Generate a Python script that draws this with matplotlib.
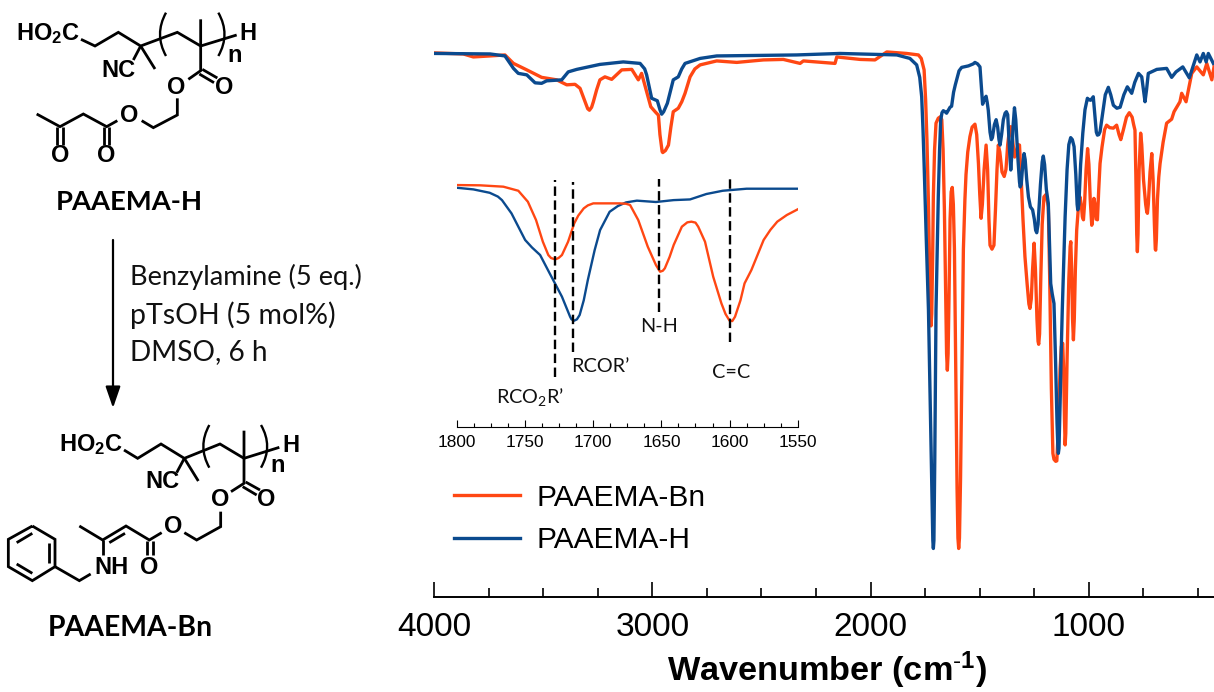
import matplotlib
matplotlib.use("Agg")
import matplotlib.pyplot as plt
from matplotlib.path import Path
from matplotlib.patches import PathPatch

plt.rcParams['font.family'] = ['Liberation Sans', 'DejaVu Sans']
plt.rcParams['mathtext.fontset'] = 'custom'
plt.rcParams['mathtext.rm'] = 'Liberation Sans'
plt.rcParams['mathtext.bf'] = 'Liberation Sans:bold'
plt.rcParams['mathtext.default'] = 'regular'

ORANGE = '#FF4713'
BLUE = '#0B4A8E'

# main spectrum, (wavenumber, transmittance %)
bn_main = [(3995, 99.4), (3866, 99.2), (3820, 98.6), (3743, 98.8), (3675, 99.0), (3636, 97.3), (3575, 96.0),
           (3507, 94.5), (3438, 94.0), (3392, 93.0), (3354, 93.1), (3331, 92.3), (3320, 91), (3308, 89.6),
           (3296, 88.2), (3288, 87.9), (3278, 88.5), (3270, 89.6), (3255, 92), (3240, 94.0), (3217, 94.6),
           (3186, 94.1), (3140, 96.0), (3094, 96.1), (3064, 94.0), (3049, 95.3), (3026, 91.6), (3007, 88.6),
           (2985, 87.5), (2972, 86.9), (2965, 83), (2955, 79.6), (2952, 79.4), (2940, 79.8), (2926, 80.9),
           (2915, 84.5), (2904, 87.6), (2881, 88.3), (2865, 89.6), (2850, 91.3), (2827, 94.6), (2805, 96.2),
           (2781, 97.0), (2705, 97.8), (2613, 97.5), (2491, 98.0), (2400, 98.1), (2323, 97.3), (2308, 97.8),
           (2163, 97.3), (2155, 98.6), (2048, 98.1), (1980, 98.0), (1926, 99.6), (1835, 99.3), (1781, 99.0)]
bn_carbonyl = [(1768, 98.3), (1755, 96.0), (1748, 90), (1742, 82), (1735.5, 70), (1730, 56), (1726, 47),
               (1723.3, 44.6), (1720, 47), (1716, 58), (1712.6, 70.5), (1707, 80), (1700.4, 85.3), (1690, 86.3),
               (1680, 86.6), (1674, 86.0), (1668, 80), (1662, 68), (1656, 50), (1652, 39), (1648.5, 35.7),
               (1645, 39), (1641, 50), (1636, 66), (1631, 71.5), (1626, 72.4), (1621, 69), (1616, 60), (1610, 35),
               (1604, 12), (1600, 2), (1596.5, -0.1), (1593, 2), (1588, 14), (1582, 36), (1575, 60), (1568, 70),
               (1563, 75), (1555, 79.5), (1545, 82.6), (1535, 84.5), (1522, 85.1)]
bn_finger = [(1514, 83), (1506, 77.2), (1500, 71), (1494, 66.2), (1488, 69), (1480, 76), (1471, 80.9), (1464, 76),
             (1458, 66), (1453, 60.8), (1444, 60), (1435, 60.8), (1428, 68), (1421, 76), (1415, 80.9), (1408, 79.5),
             (1398, 75.5), (1388, 74.6), (1380, 76), (1372, 81), (1364, 84), (1358, 84.6), (1350, 82), (1340, 78.5),
             (1334, 79), (1325, 81), (1318, 80.9), (1310, 74), (1302, 66), (1293, 58.5), (1283, 53), (1275, 49),
             (1270, 48.1), (1264, 50), (1258, 56), (1251, 61.2), (1245, 56), (1238, 46), (1233, 41.5), (1230, 40.9),
             (1226, 43), (1220, 55), (1214, 65), (1206, 70.5), (1196, 71), (1186, 68.5), (1180, 55), (1172, 32),
             (1165, 19), (1160, 17.8), (1152, 17.4), (1147, 17.5), (1140, 24), (1132, 36), (1126, 40.5), (1120, 41.1),
             (1116, 36), (1112, 26), (1109, 20.7), (1106, 23), (1100, 38), (1092, 54), (1086, 60.5), (1083, 61.5),
             (1079, 56), (1075, 46), (1071, 41.8), (1067, 46), (1062, 56), (1056, 63.8), (1048, 68.5), (1041, 70.5),
             (1035, 69), (1030, 66.5), (1025, 65.9), (1020, 69), (1013, 76), (1006, 80.2), (1000, 77), (994, 70),
             (987, 64.8), (983, 66), (977, 70.2), (972, 69), (966, 66), (961, 65.9), (955, 72), (949, 77.2),
             (940, 80.5), (928, 84), (919, 84.9), (905, 84.4), (888, 84.3), (873, 84.9), (862, 83), (854, 82),
             (842, 84), (828, 86.5), (815, 87.4), (802, 86.5), (795, 85), (789, 83.9), (785, 75), (781, 63),
             (778, 59.5), (775, 63), (770, 76), (763, 83.3), (758, 81), (750, 74), (740, 69), (735, 67.5), (732, 67.2),
             (728, 69), (720, 75.5), (712, 79.2), (706, 74), (700, 65), (696, 60), (694, 59.8), (691, 62), (686, 70),
             (680, 74.5), (674, 77.2), (660, 81.5), (644, 85.3), (621, 86.1), (610, 87.6), (583, 89.6), (575, 91.3),
             (555, 89.6), (529, 95.3), (506, 96.6), (476, 95.0), (460, 97.3), (437, 94.0), (427, 96.6)]
h_main = [(3995, 99.3), (3743, 99.2), (3675, 98.8), (3636, 96.3), (3614, 95.3), (3575, 95.0), (3537, 93.4),
          (3507, 93.3), (3484, 93.8), (3415, 94.0), (3385, 95.6), (3346, 96.1), (3240, 97.1), (3133, 97.6),
          (3056, 97.3), (3035, 96.2), (3026, 95.0), (3003, 90.3), (2977, 89.8), (2965, 88), (2957, 87.1), (2948, 87.6),
          (2931, 89.3), (2904, 94.0), (2881, 94.6), (2865, 96.2), (2850, 97.3), (2781, 98.3), (2705, 98.8),
          (2339, 99.0), (2140, 99.3), (1880, 99.0), (1820, 98.3), (1789, 97.0), (1775, 94.5)]
h_carbonyl = [(1766, 90.6), (1760, 84), (1755, 77.2), (1745, 62), (1735, 47.8), (1726, 27), (1719, 10), (1715, 1.5),
              (1712.6, -0.1), (1710, 1.5), (1706, 18), (1700.4, 47.8), (1695, 60), (1690, 70.5), (1684, 80),
              (1679, 85.9), (1673, 87.4), (1667, 87.8), (1659, 87.6), (1652, 87.3), (1636, 88.5), (1629, 88.7),
              (1620, 91.5), (1612, 93), (1606, 94), (1595, 95.8), (1583, 96.5), (1552, 96.8), (1530, 97.2), (1522, 97.5)]
h_finger = [(1510, 97.2), (1499, 96.6), (1493, 93), (1487, 89.1), (1478, 90.2), (1471, 90.7), (1466, 89.5), (1461, 87.9),
            (1453, 83.5), (1447, 82), (1442, 82.4), (1433, 85), (1425, 86), (1418, 84.5), (1412, 82), (1407, 80.9),
            (1400, 83), (1392, 86), (1384, 87.3), (1378, 87.6), (1372, 87), (1365, 81), (1358, 75.9), (1353, 79),
            (1347, 85), (1341, 88.4), (1335, 86), (1325, 78), (1318, 73.5), (1315, 72.5), (1310, 73), (1303, 77),
            (1297, 79.2), (1292, 78), (1285, 74), (1277, 70.5), (1268, 68.5), (1258, 67.9), (1250, 66), (1244, 63.8),
            (1239, 63.3), (1233, 65), (1222, 73), (1214, 77.5), (1209, 78.7), (1203, 77), (1195, 72), (1186, 69.2),
            (1180, 60), (1175, 53.1), (1168, 51), (1160, 49.1), (1153, 38), (1146, 25), (1142, 20), (1140, 19),
            (1137, 20), (1132, 29), (1126, 41), (1122, 47.8), (1115, 58), (1109, 66.5), (1100, 76), (1092, 81),
            (1083.5, 82.4), (1076, 82), (1068, 80.6), (1060, 75), (1054, 69), (1051, 67.9), (1046, 69), (1038, 77),
            (1028, 83.3), (1018, 88), (1007, 90.3), (999, 90), (992, 89.9), (985, 90.3), (980, 90.6), (973, 87),
            (966, 83.5), (961, 82.9), (955, 83), (949, 83.6), (938, 87), (925, 91), (911, 92.5), (900, 91), (888, 88.9),
            (872, 88.3), (857, 88.5), (840, 91), (824, 92.6), (804, 91.3), (790, 93.5), (773, 95.3), (758, 94.6),
            (750, 92), (743, 89.6), (736, 92), (728, 95.3), (689, 96.1), (644, 96.3), (621, 94.5), (601, 95.6),
            (570, 96.6), (540, 94.4), (506, 99.0), (491, 97.6), (476, 99.3), (463, 97.6), (453, 99.3), (430, 97.3)]

# inset, 1800-1550 cm-1
bn_inset = [(1800, 100), (1783, 99.8), (1766, 98.8), (1755, 95.8), (1748, 87.7), (1742, 74.2), (1737, 58.2), (1733, 48.4),
            (1731, 46.2), (1728, 45.2), (1725.5, 46.2), (1723, 48.4), (1718.5, 58.2), (1714, 71.7), (1711, 77.5), (1707, 82.8),
            (1704, 85), (1700, 86.5), (1680.5, 86.5), (1676, 86.2), (1673, 85.3), (1667, 74.2), (1660, 54.5), (1654, 41.0),
            (1651, 36.1), (1649, 36.8), (1647.5, 38.6), (1644, 47), (1641, 55.8), (1635, 69.3), (1631, 72.5), (1628, 73.0),
            (1625, 72.3), (1623, 69.3), (1618, 58.2), (1612, 32.4), (1606, 12.8), (1603, 5), (1600, 0), (1598, -0.3),
            (1596, 2.9), (1592, 15), (1589, 27.5), (1584, 37.3), (1575, 59.5), (1570, 67), (1565, 73.0), (1558, 77.9), (1550, 82.1)]
h_inset = [(1800, 98.0), (1788, 96.8), (1776, 94.3), (1770, 91.5), (1767, 88.9), (1760, 79.1), (1750, 59.5), (1745, 54),
           (1739, 48.4), (1732, 34.9), (1723, 17.7), (1717, 2.9), (1716, 1), (1714, 0), (1712, 1), (1710, 4.2), (1707, 15),
           (1704, 30.0), (1699, 52), (1695, 66.8), (1688, 80.3), (1682, 84.5), (1676, 87.2), (1668, 88.5), (1654, 87.5),
           (1641, 88.9), (1629, 89.4), (1617, 93.4), (1605, 95.8), (1587.5, 97.3), (1550, 97.3)]

band_wn = [1728, 1715, 1652, 1600]
band_top = [103.7, 102.5, 104.2, 106.1]
band_bottom = [-41.3, -22.9, 6.6, -15.5]

main_ticks = [4000, 3000, 2000, 1000]
inset_ticks = [1800, 1750, 1700, 1650, 1600, 1550]

W, H = 1214, 692
fig = plt.figure(figsize=(W / 100, H / 100), dpi=100)


def axes_px(x0, y0, x1, y1, **kw):
    # y0 = top, y1 = bottom, in picture pixels
    return fig.add_axes([x0 / W, 1 - y1 / H, (x1 - x0) / W, (y1 - y0) / H], **kw)


def draw(axis, pairs, **kw):
    wn, t = zip(*pairs)
    return axis.plot(wn, t, solid_joinstyle='round', **kw)


# main spectrum
ax = axes_px(434, 40, 1214, 597)
ax.patch.set_visible(False)
draw(ax, bn_main + bn_carbonyl + bn_finger, color=ORANGE, lw=2.4, label='PAAEMA-Bn')
draw(ax, h_main + h_carbonyl + h_finger, color=BLUE, lw=2.4, label='PAAEMA-H')
ax.set_xlim(4000, 427)
ax.set_ylim(-9.84, 102)
ax.set_yticks([])
ax.set_xticks(main_ticks)
ax.set_xticks(range(3750, 400, -250), minor=True)
for s in ['left', 'right', 'top']:
    ax.spines[s].set_visible(False)
ax.spines['bottom'].set_linewidth(1.4)
ax.tick_params(axis='x', which='major', direction='in', length=11, width=1.2, labelsize=24, pad=10.5)
ax.tick_params(axis='x', which='minor', direction='in', length=6.5, width=1.2)
ax.set_xlabel('Wavenumber (cm$^{\\text{-}\\mathbf{1}}$)', fontsize=24.7, fontweight='bold', labelpad=5)
ax.xaxis.label.set_x((827 - 434) / 780)
ax.legend(loc='center left', bbox_to_anchor=(0.0256, 0.14), frameon=False, fontsize=21.5,
          handlelength=2.2, handletextpad=0.57, labelspacing=0.5, borderpad=0, borderaxespad=0)

# inset
axi = axes_px(457, 170, 797.7, 427)
axi.patch.set_visible(False)
draw(axi, h_inset, color=BLUE, lw=1.7)
draw(axi, bn_inset, color=ORANGE, lw=1.7)
axi.vlines(band_wn, band_bottom, band_top, colors='black', linestyles=(0, (4, 1.9)), lw=1.7)
axi.set_xlim(1800, 1550)
axi.set_ylim(-78.4, 111.1)
axi.set_yticks([])
axi.set_xticks(inset_ticks)
axi.set_xticks([t - 12.5 * k for t in inset_ticks[:-1] for k in (1, 2, 3)], minor=True)
for s in ['left', 'right', 'top']:
    axi.spines[s].set_visible(False)
axi.spines['bottom'].set_linewidth(0.8)
axi.tick_params(axis='x', which='major', direction='in', length=4.8, width=0.8, labelsize=12.4, pad=6)
axi.tick_params(axis='x', which='minor', direction='in', length=2.9, width=0.8)

# overlay in picture pixels for the structures and notes
ov = fig.add_axes([0, 0, 1, 1], zorder=5)
ov.set_xlim(0, W)
ov.set_ylim(H, 0)
ov.axis('off')

LATO = ['Lato', 'DejaVu Sans']
for txt, x, y in [('RCO$_2$R’', 530, 397), ('RCOR’', 600, 367), ('N-H', 659.5, 326), ('C=C', 731, 372)]:
    ov.text(x, y, txt, family=LATO, fontsize=14.3, ha='center', va='center', color='#111111')
for txt, y, size in [('Benzylamine (5 eq.)', 277, 19.6), ('pTsOH (5 mol%)', 315, 20.5), ('DMSO, 6 h', 352, 20.2)]:
    ov.text(130, y, txt, family=LATO, fontsize=size, ha='left', va='center', color='#111111')
ov.text(129.5, 202, 'PAAEMA-H', family=LATO, fontsize=19.7, fontweight='bold', ha='center', va='center')
ov.text(130.5, 628, 'PAAEMA-Bn', family=LATO, fontsize=20.4, fontweight='bold', ha='center', va='center')

ov.annotate('', xy=(113, 408), xytext=(113, 240),
            arrowprops=dict(arrowstyle='-|>,head_length=1.3,head_width=0.45', color='black', lw=1.6,
                            shrinkA=0, shrinkB=0))


def bonds(chains, ox=0, oy=0, lw=2.0):
    # chains are in zoomed crop units (3 per picture pixel)
    for c in chains:
        ov.plot([ox + p[0] / 3 for p in c], [oy + p[1] / 3 for p in c], color='black', lw=lw,
                solid_capstyle='butt', solid_joinstyle='miter')


def paren(x_tip, x_mid, y0, y1, ox=0, oy=0):
    verts = [(ox + x_tip / 3, oy + y0 / 3), (ox + x_mid / 3, oy + (y0 + y1) / 6), (ox + x_tip / 3, oy + y1 / 3)]
    ov.add_patch(PathPatch(Path(verts, [Path.MOVETO, Path.CURVE3, Path.CURVE3]), fc='none', ec='black', lw=1.7))


def atom(x, y, txt, ox=0, oy=0, size=17, ha='center'):
    ov.text(ox + x / 3, oy + y / 3, txt, fontsize=size, fontweight='bold', ha=ha, va='center')


# PAAEMA-H
bonds([[(243, 118), (285, 138), (355, 97), (422, 138), (532, 97), (602, 138), (710, 105)],
       [(602, 58), (602, 212), (565, 238)],
       [(422, 138), (465, 207)],
       [(422, 138), (400, 180)],
       [(607, 208), (652, 234)],
       [(598, 222), (642, 248)],
       [(532, 295), (532, 345), (460, 383), (425, 362)],
       [(352, 362), (320, 380), (250, 342), (180, 380), (110, 342)],
       [(172, 382), (172, 435)], [(190, 382), (190, 435)],
       [(312, 382), (312, 435)], [(328, 382), (328, 435)]])
paren(498, 462, 38, 168)
paren(655, 692, 38, 168)
atom(48, 100, 'HO$_{\\mathbf{2}}$C', ha='left')
atom(355, 212, 'NC')
atom(745, 100, 'H')
atom(703, 165, 'n')
atom(530, 262, 'O')
atom(672, 262, 'O')
atom(388, 345, 'O')
atom(180, 468, 'O')
atom(320, 468, 'O')

# PAAEMA-Bn
oy2 = 400
bonds([[(372, 150), (413, 175), (483, 132), (553, 175), (660, 132), (732, 175), (838, 142)],
       [(732, 92), (732, 250), (693, 275)],
       [(553, 175), (595, 243)],
       [(553, 175), (530, 218)],
       [(737, 246), (780, 270)],
       [(728, 260), (770, 285)],
       [(662, 335), (662, 380), (590, 420), (553, 398)],
       [(485, 398), (448, 420), (378, 378), (308, 420), (238, 378)],
       [(375, 400), (328, 428)],
       [(440, 422), (440, 465)], [(458, 422), (458, 465)],
       [(308, 420), (308, 465)],
       [(272, 522), (238, 542), (165, 500)],
       [(97, 378), (165, 418), (165, 500), (97, 542), (25, 500), (25, 418), (97, 378)],
       [(50, 428), (97, 400)], [(147, 430), (147, 488)], [(97, 520), (50, 492)]], oy=oy2)
paren(628, 592, 75, 203, oy=oy2)
paren(783, 820, 75, 203, oy=oy2)
atom(178, 135, 'HO$_{\\mathbf{2}}$C', oy=oy2, ha='left')
atom(486, 245, 'NC', oy=oy2)
atom(873, 135, 'H', oy=oy2)
atom(833, 197, 'n', oy=oy2)
atom(660, 298, 'O', oy=oy2)
atom(800, 298, 'O', oy=oy2)
atom(520, 380, 'O', oy=oy2)
atom(333, 502, 'NH', oy=oy2)
atom(447, 502, 'O', oy=oy2)

fig.savefig('out.png', dpi=100)
